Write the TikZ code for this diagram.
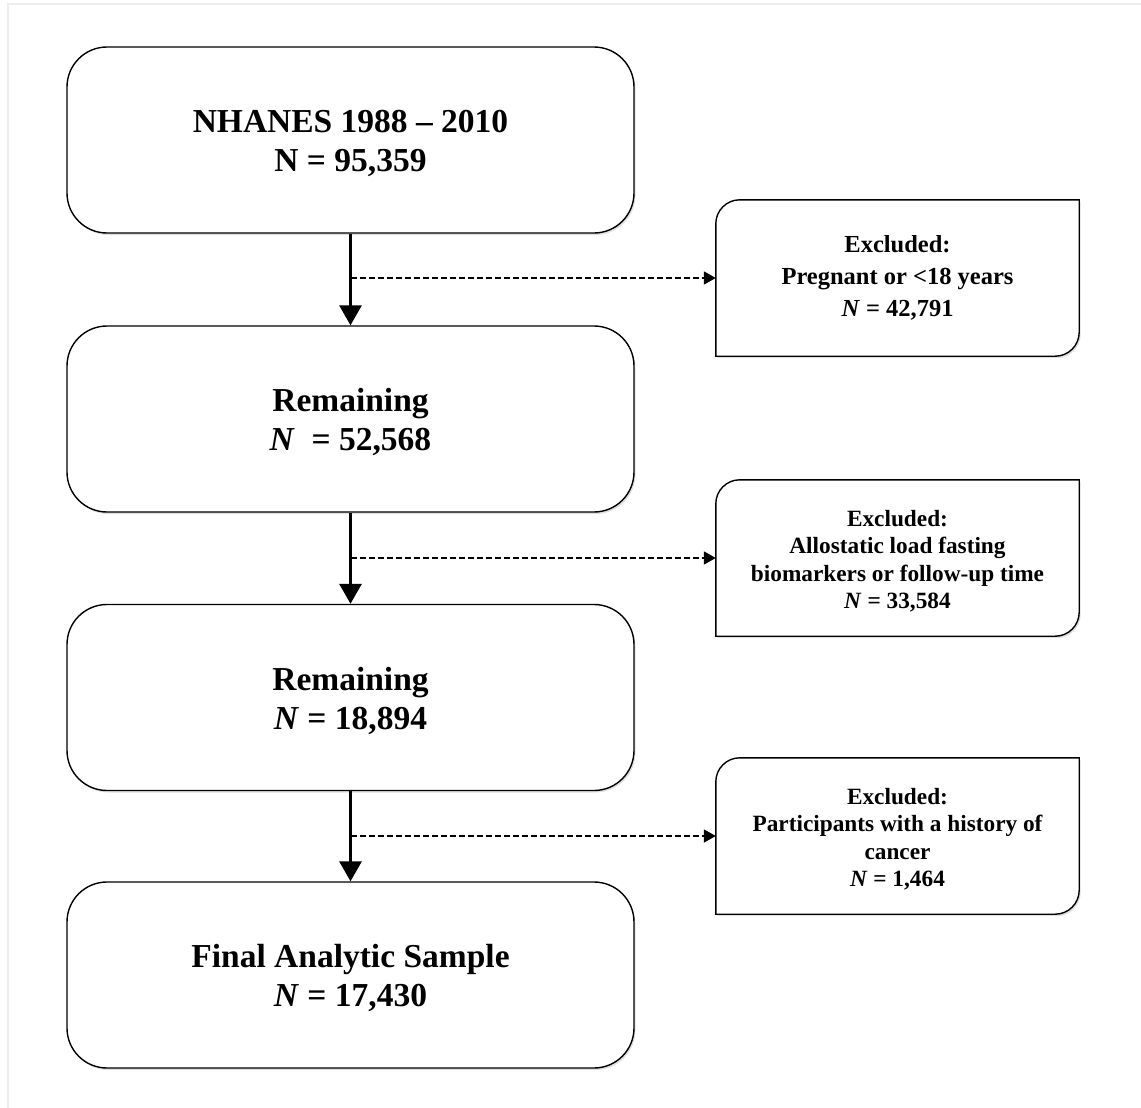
\documentclass[tikz,border=0pt]{standalone}
\usepackage{fontspec}
\setmainfont{Liberation Serif}
\usetikzlibrary{arrows.meta,shadows}

% frame of an exclusion box: round top left and bottom right corners
\newcommand{\exclframe}[1]{%
  \draw[exclline] ([yshift=-24pt]#1.north west) arc[start angle=180,end angle=90,radius=24pt]
    -- (#1.north east) -- ([yshift=24pt]#1.south east) arc[start angle=0,end angle=-90,radius=24pt]
    -- (#1.south west) -- cycle;}

\begin{document}
\begin{tikzpicture}[x=1pt,y=1pt,
    mainbox/.style={draw, line width=1.4pt, rounded corners=40pt, fill=white,
      drop shadow={opacity=0.25, shadow xshift=1.5pt, shadow yshift=-2pt},
      minimum width=567pt, minimum height=186pt},
    maintext/.style={align=center, font=\fontsize{33.5}{39}\selectfont\bfseries},
    exclbox/.style={minimum width=363pt, minimum height=156pt},
    excltext/.style={align=center, font=\fontsize{23.3}{27.5}\selectfont\bfseries},
    exclline/.style={line width=1.4pt, fill=white,
      drop shadow={opacity=0.25, shadow xshift=1.5pt, shadow yshift=-2pt}},
    down/.style={line width=3pt, -{Triangle[width=22pt,length=20pt]}},
    side/.style={line width=1.8pt, dashed, dash pattern=on 6pt off 3pt, -{Triangle[width=13pt,length=12pt]}}]
  \useasboundingbox (0,0) rectangle (1141,-1108);
  \draw[black!7, line width=1.5pt] (8,-1108) -- (8,-4) -- (1141,-4);

  \node[mainbox] (total) at (350.5,-140) {};
  \node[mainbox] (rem1) at (350.5,-419) {};
  \node[mainbox] (rem2) at (350.5,-697.5) {};
  \node[mainbox] (final) at (350.5,-975) {};
  \node[maintext] at ([yshift=-3pt]total) {NHANES 1988 -- 2010\\N = 95,359};
  \node[maintext] at ([yshift=-3pt]rem1) {Remaining\\\textit{N}\ \ = 52,568};
  \node[maintext] at ([yshift=-3pt]rem2) {Remaining\\\textit{N} = 18,894};
  \node[maintext] at ([yshift=-3pt]final) {Final Analytic Sample\\\textit{N} = 17,430};

  \node[exclbox] (exc1) at (897.5,-278) {};
  \exclframe{exc1}
  \node[excltext, font=\fontsize{24.5}{32}\selectfont\bfseries] at (exc1) {Excluded:\\Pregnant or <18 years\\\textit{N} = 42,791};
  \node[exclbox] (exc2) at (897.5,-558) {};
  \exclframe{exc2}
  \node[excltext] at ([yshift=-3pt]exc2) {Excluded:\\Allostatic load fasting\\biomarkers or follow-up time\\\textit{N} = 33,584};
  \node[exclbox] (exc3) at (897.5,-836) {};
  \exclframe{exc3}
  \node[excltext] at ([yshift=-3pt]exc3) {Excluded:\\Participants with a history of\\cancer\\\textit{N} = 1,464};

  \draw[down] (total) -- (rem1);
  \draw[down] (rem1) -- (rem2);
  \draw[down] (rem2) -- (final);

  \draw[side] (exc1.west -| total.south) -- (exc1.west);
  \draw[side] (exc2.west -| rem1.south) -- (exc2.west);
  \draw[side] (exc3.west -| rem2.south) -- (exc3.west);
\end{tikzpicture}
\end{document}
